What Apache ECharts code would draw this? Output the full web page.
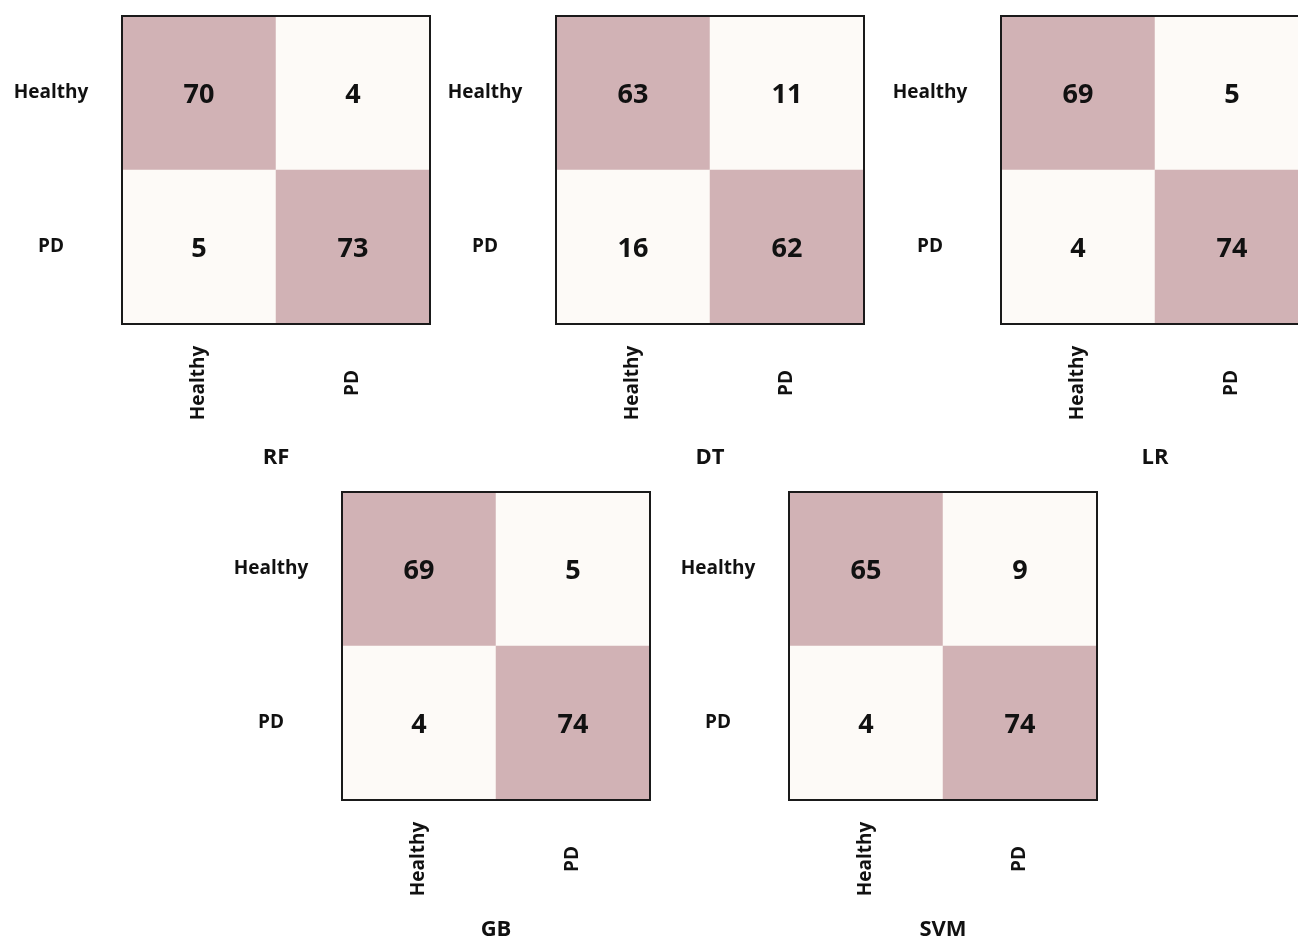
<!DOCTYPE html>
<html>
<head>
<meta charset="utf-8">
<script src="https://cdn.jsdelivr.net/npm/echarts@6/dist/echarts.min.js"></script>
<style>
  html, body { margin: 0; padding: 0; background: #ffffff; }
  #chart { width: 1298px; height: 937px; }
</style>
</head>
<body>
<div id="chart"></div>
<script>
// Class labels (rows = actual, columns = predicted)
const classes = ['Healthy', 'PD'];

// Classifier names, drawn under each matrix
const models = ['RF', 'DT', 'LR', 'GB', 'SVM'];

// Confusion matrices, one per classifier: [row][column]
const cmRF  = [[70, 4], [5, 73]];
const cmDT  = [[63, 11], [16, 62]];
const cmLR  = [[69, 5], [4, 74]];
const cmGB  = [[69, 5], [4, 74]];
const cmSVM = [[65, 9], [4, 74]];

const matrices = [cmRF, cmDT, cmLR, cmGB, cmSVM];

// Panel placement (pixels); the last top-row panel runs past the right edge
const panels = [
  { left: 122, top: 16, gap: 123 },
  { left: 556, top: 16, gap: 123 },
  { left: 1001, top: 16, gap: 123 },
  { left: 342, top: 492, gap: 119 },
  { left: 789, top: 492, gap: 119 }
];
const boxSize = 308;

const FONT = '"Open Sans", "Noto Sans", sans-serif';
const DARK = '#d1b2b5';
const LIGHT = '#fdfaf7';

const grids = [], xAxes = [], yAxes = [], series = [];

panels.forEach((p, i) => {
  grids.push({
    left: p.left, top: p.top, width: boxSize, height: boxSize,
    outerBoundsMode: 'none', containLabel: false,
    show: true, z: 10,
    borderColor: '#1a1a1a', borderWidth: 2,
    backgroundColor: 'transparent'
  });
  xAxes.push({
    type: 'category', gridIndex: i, data: classes,
    axisLine: { show: false }, axisTick: { show: false },
    splitLine: { show: false },
    axisLabel: {
      rotate: 90, align: 'center', verticalAlign: 'middle',
      margin: 59, fontFamily: FONT, fontWeight: 'bold',
      fontSize: 19, color: '#111'
    },
    name: models[i], nameLocation: 'middle', nameGap: p.gap,
    nameTextStyle: { fontFamily: FONT, fontWeight: 'bold', fontSize: 22, color: '#111' }
  });
  yAxes.push({
    type: 'category', gridIndex: i, data: classes, inverse: true,
    axisLine: { show: false }, axisTick: { show: false },
    splitLine: { show: false },
    axisLabel: {
      align: 'center', margin: 71, fontFamily: FONT, fontWeight: 'bold',
      fontSize: 19, color: '#111'
    }
  });
  const data = [];
  matrices[i].forEach((row, r) => {
    row.forEach((v, c) => data.push([c, r, v]));
  });
  series.push({
    type: 'heatmap', xAxisIndex: i, yAxisIndex: i, data: data,
    label: {
      show: true, fontFamily: FONT, fontWeight: 'bold',
      fontSize: 27, color: '#111', offset: [0, 2]
    },
    itemStyle: { borderWidth: 0 },
    emphasis: { disabled: true }
  });
});

const chart = echarts.init(document.getElementById('chart'), null, { renderer: 'canvas' });
chart.setOption({
  backgroundColor: '#ffffff',
  animation: false,
  grid: grids,
  xAxis: xAxes,
  yAxis: yAxes,
  visualMap: {
    type: 'piecewise', show: false, dimension: 2,
    seriesIndex: [0, 1, 2, 3, 4],
    pieces: [
      { min: 0, max: 30, color: LIGHT },
      { min: 30, max: 1000, color: DARK }
    ]
  },
  series: series
});
</script>
</body>
</html>
